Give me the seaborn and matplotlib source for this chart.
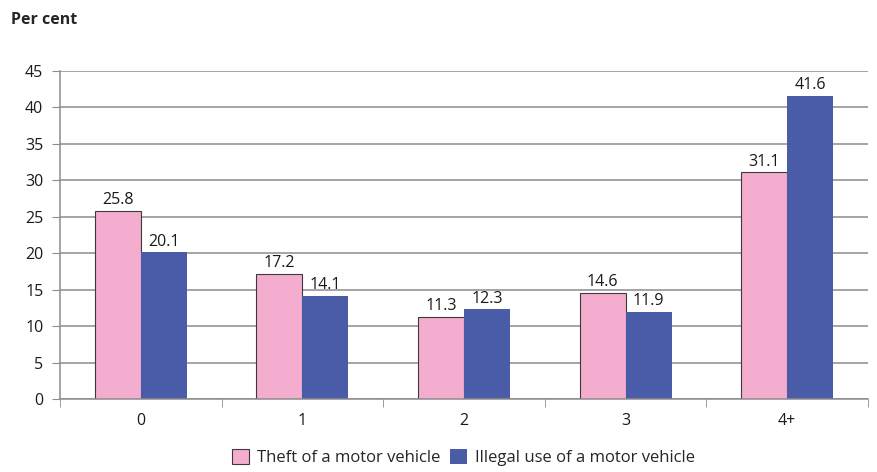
import matplotlib
matplotlib.use("Agg")
import matplotlib.pyplot as plt
import seaborn as sns
import pandas as pd
from matplotlib.patches import Patch

categories = ["0", "1", "2", "3", "4+"]
theft = [25.8, 17.2, 11.3, 14.6, 31.1]
illegal = [20.1, 14.1, 12.3, 11.9, 41.6]
series_names = ["Theft of a motor vehicle", "Illegal use of a motor vehicle"]
colors = ["#F4ADCF", "#4A5CA8"]

df = pd.DataFrame({
    "cat": categories * 2,
    "val": theft + illegal,
    "series": [series_names[0]] * len(categories) + [series_names[1]] * len(categories),
})

sns.set_style("white")
plt.rcParams["font.family"] = ["Open Sans", "DejaVu Sans"]

fig = plt.figure(figsize=(8.78, 4.72), dpi=100)
ax = fig.add_axes([0.0683, 0.1547, 0.9203, 0.6949])

sns.barplot(data=df, x="cat", y="val", hue="series", palette=colors,
            width=0.57, saturation=1, ax=ax, legend=False)

for i, cont in enumerate(ax.containers):
    for p in cont:
        if i == 0:
            p.set_edgecolor("#3a3a3a")
            p.set_linewidth(0.8)
        else:
            p.set_edgecolor("none")
    ax.bar_label(cont, labels=[f"{v:.1f}" for v in cont.datavalues],
                 padding=2, fontsize=11.5, color="#1a1a1a")

ax.set_ylim(0, 45)
ax.set_yticks(range(0, 46, 5))
ax.set_xlim(-0.5, 4.5)
ax.yaxis.grid(True, color="#8c8c8c", linewidth=1.1)
ax.set_axisbelow(True)
for s in ["top", "right"]:
    ax.spines[s].set_visible(False)
for s in ["left", "bottom"]:
    ax.spines[s].set_color("#8c8c8c")
    ax.spines[s].set_linewidth(1.1)
ax.set_xlabel("")
ax.set_ylabel("")
ax.tick_params(axis="y", labelsize=11.5, length=6, color="#8c8c8c", direction="out",
               left=True, pad=6, labelcolor="#1a1a1a")
ax.tick_params(axis="x", labelsize=11.5, length=0, pad=10, labelcolor="#1a1a1a")
ax.set_xticks([x + 0.5 for x in range(-1, 5)], minor=True)
ax.tick_params(axis="x", which="minor", length=6, color="#8c8c8c", bottom=True, direction="out")

fig.text(0.012, 0.975, "Per cent", fontsize=11.5, fontweight="bold", va="top", ha="left")

handles = [Patch(facecolor=colors[0], edgecolor="#3a3a3a", linewidth=0.8),
           Patch(facecolor=colors[1], edgecolor="none")]
fig.legend(handles, series_names, loc="center", bbox_to_anchor=(0.528, 0.03),
           ncol=2, frameon=False, fontsize=12, handlelength=1.0, handleheight=1.0,
           handletextpad=0.5, columnspacing=0.6)

fig.savefig("out.png", dpi=100)
